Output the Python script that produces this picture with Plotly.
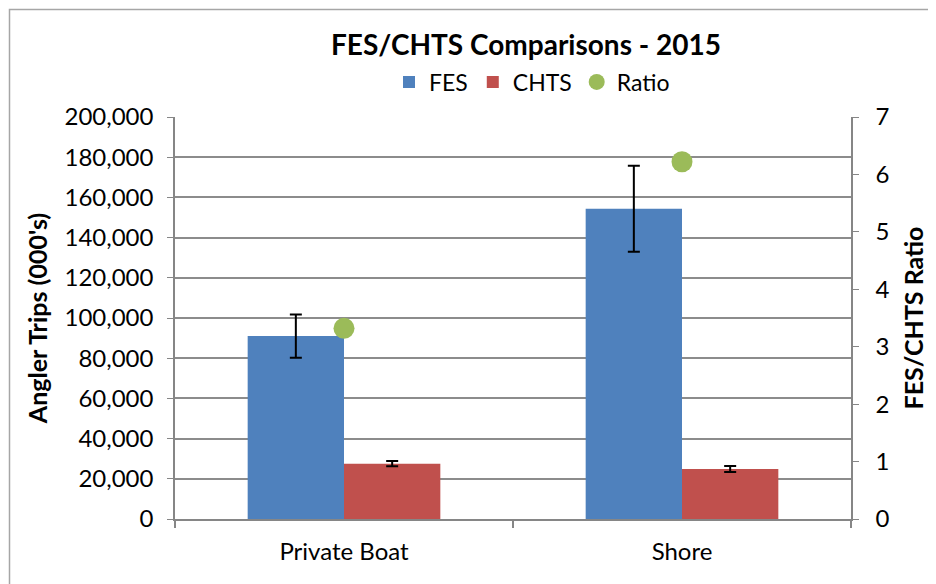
import plotly.graph_objects as go

categories = ["Private Boat", "Shore"]
fes = [91000, 154400]
fes_err = [10800, 21400]
chts = [27500, 24900]
chts_err = [1300, 1500]
ratio = [3.32, 6.22]

FONT = "Lato"
W, H = 936, 584
OFF = 8  # page body margin in the browser
L, R, T, B = 175 - OFF, 85 + OFF, 117 - OFF, 65 + OFF
pw, ph = W - L - R, H - T - B

def px_x(x):
    return (x - OFF - L) / pw

def px_y(y):
    return (H - B - (y - OFF)) / ph

fig = go.Figure()
fig.add_trace(go.Bar(
    name="FES", x=categories, y=fes, marker_color="#4F81BD",
    marker_line_width=0,
    error_y=dict(type="data", array=fes_err, color="black", thickness=2, width=6),
))
fig.add_trace(go.Bar(
    name="CHTS", x=categories, y=chts, marker_color="#C0504D",
    marker_line_width=0,
    error_y=dict(type="data", array=chts_err, color="black", thickness=2, width=6),
))
fig.add_trace(go.Scatter(
    name="Ratio", x=categories, y=ratio, yaxis="y2", mode="markers",
    marker=dict(color="#9BBB59", size=21),
))

fig.update_layout(
    width=W, height=H, autosize=False,
    margin=dict(l=L, r=R, t=T, b=B, autoexpand=False),
    paper_bgcolor="white", plot_bgcolor="white",
    font=dict(family=FONT, size=24, color="black"),
    barmode="group", bargap=0.43, bargroupgap=0,
    title=dict(text="<b>FES/CHTS Comparisons - 2015</b>", x=px_x(526), xref="paper",
               xanchor="center", y=1 - (45 - OFF) / H, yanchor="middle",
               font=dict(family=FONT, size=28)),
    legend=dict(orientation="h", x=px_x(532), xanchor="center", y=px_y(82),
                yanchor="middle", font=dict(size=23), itemwidth=30,
                bgcolor="rgba(0,0,0,0)", tracegroupgap=0),
    xaxis=dict(showline=True, linecolor="#868686", linewidth=2,
               ticks="outside", tickson="boundaries", ticklen=7, tickcolor="#868686",
               tickwidth=1.5, tickfont=dict(size=24), showgrid=False, automargin=False,
               ticklabelstandoff=10),
    yaxis=dict(range=[0, 200000], dtick=20000, tickformat=",d",
               showline=True, linecolor="#868686", linewidth=1.5,
               ticks="outside", ticklen=6, tickcolor="#868686",
               showgrid=True, gridcolor="#8C8C8C", gridwidth=1.5, zeroline=False,
               automargin=False, ticklabelstandoff=9,
               title=dict(text="<b>Angler Trips (000's)</b>", font=dict(size=25), standoff=10),
               tickfont=dict(size=24)),
    yaxis2=dict(range=[0, 7], dtick=1, overlaying="y", side="right",
                showline=True, linecolor="#868686", linewidth=1.5,
                ticks="outside", ticklen=6, tickcolor="#868686",
                showgrid=False, zeroline=False, automargin=False, ticklabelstandoff=12,
                title=dict(text="<b>FES/CHTS Ratio</b>", font=dict(size=25), standoff=17),
                tickfont=dict(size=24)),
    shapes=[dict(type="rect", xref="paper", yref="paper",
                 x0=px_x(9.5), x1=px_x(929), y0=px_y(598), y1=px_y(9.5),
                 line=dict(color="#A6A6A6", width=1.5), fillcolor="rgba(0,0,0,0)",
                 layer="below")],
)

fig.write_html("out.html")
